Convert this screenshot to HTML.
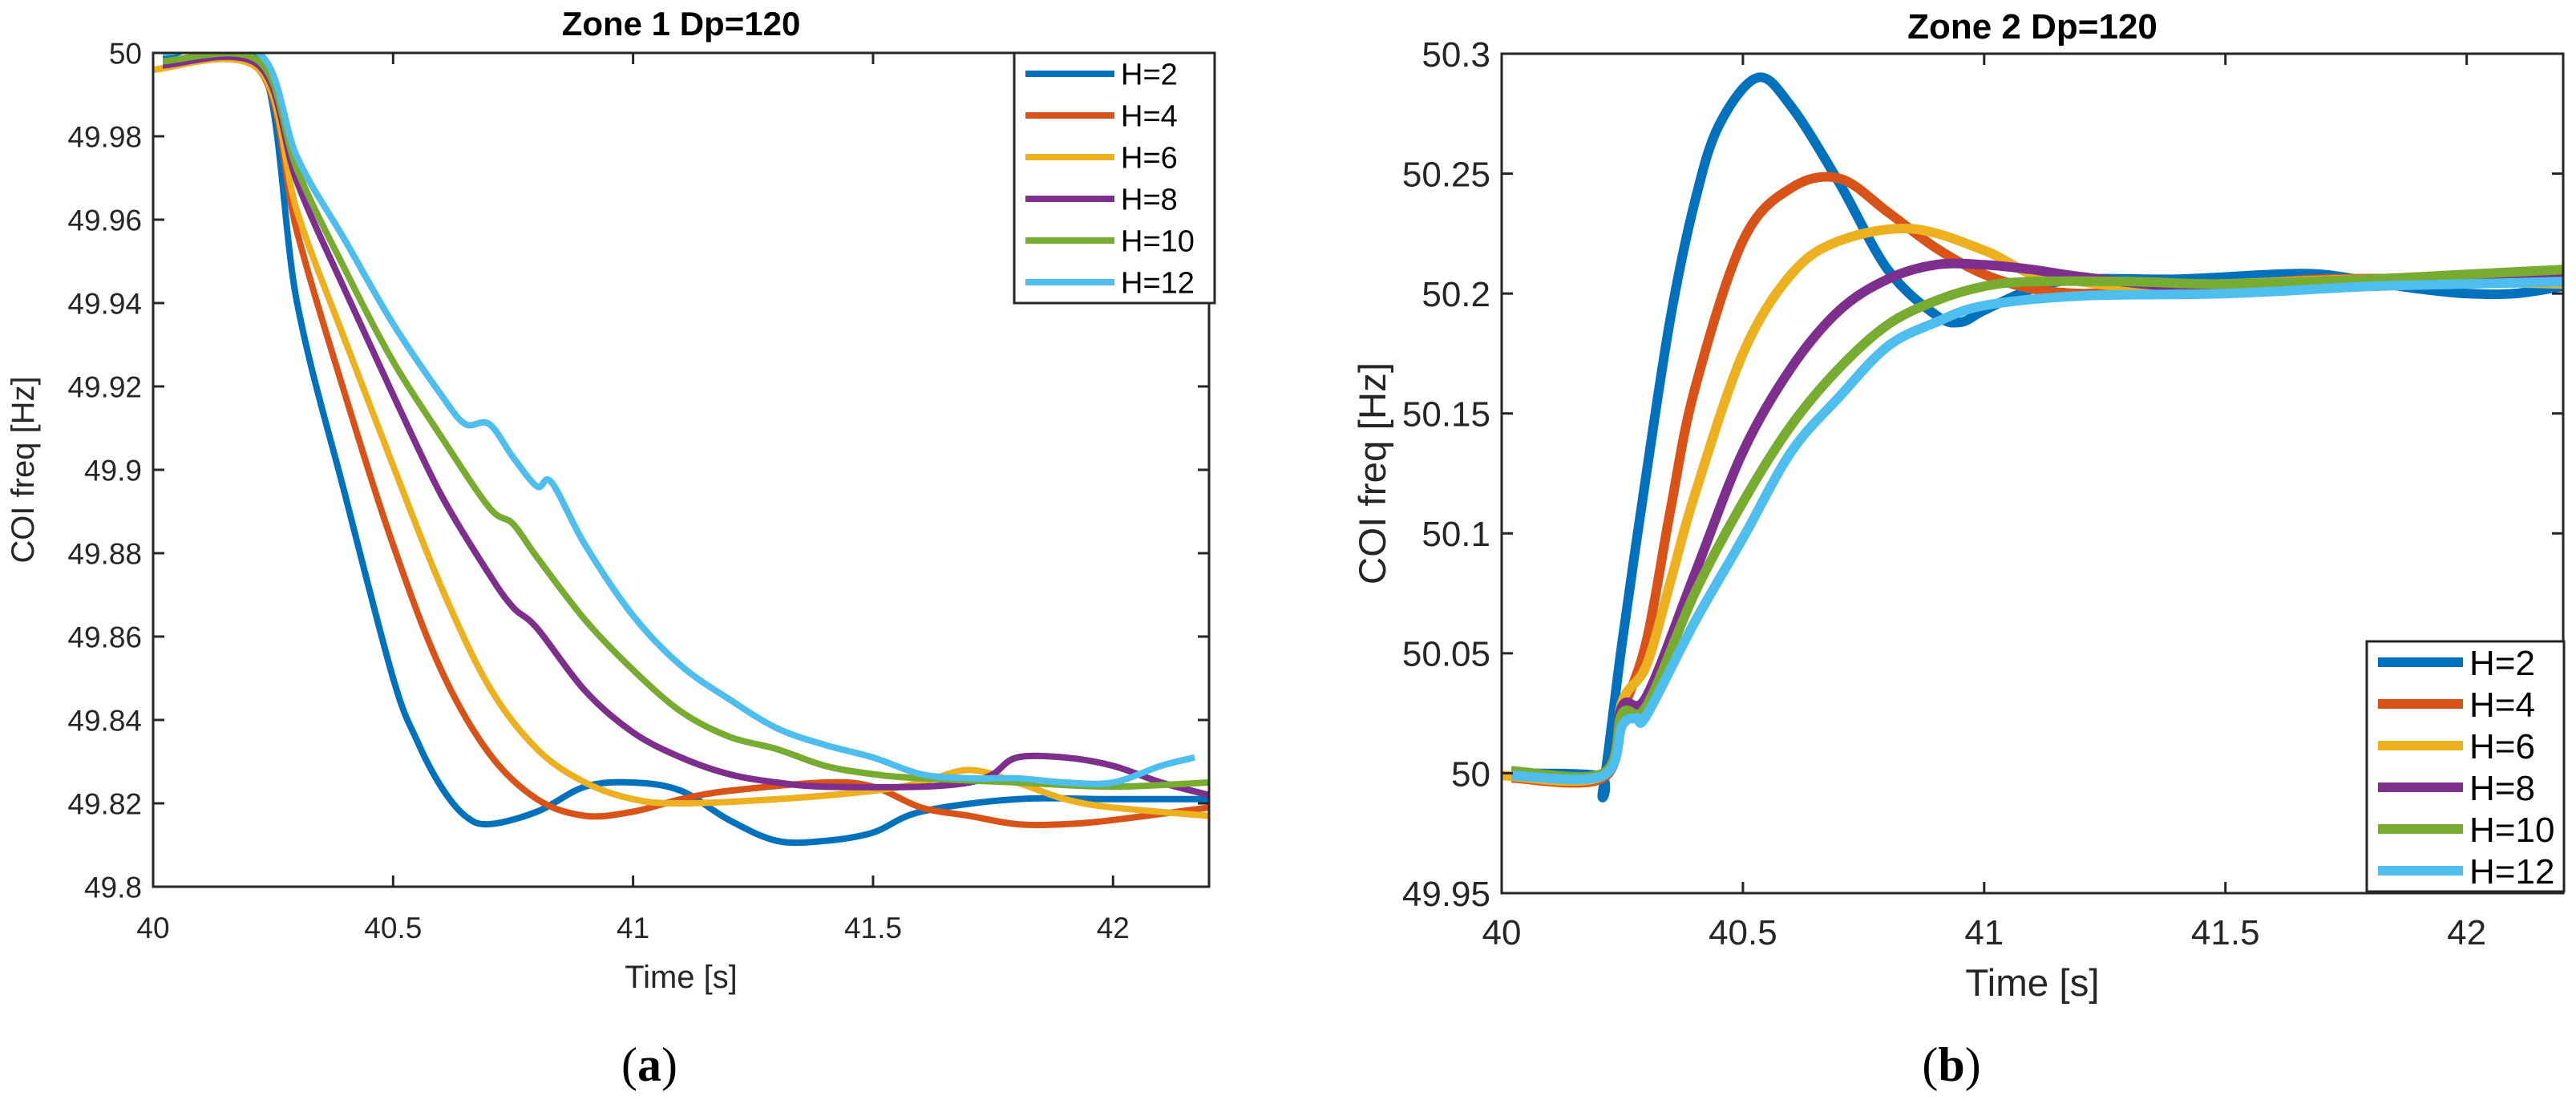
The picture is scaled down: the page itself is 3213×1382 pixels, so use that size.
<!DOCTYPE html>
<html><head><meta charset="utf-8"><style>
html,body{margin:0;padding:0;background:#fff;}
svg{display:block;font-family:"Liberation Sans",sans-serif;}
</style></head><body>
<svg id="fig" width="3213" height="1382" viewBox="0 0 3213 1382" xmlns="http://www.w3.org/2000/svg">
<rect width="3213" height="1382" fill="#fff"/>
<g id="pa"></g>
<g id="pb"></g>
<text x="810" y="1348" font-family="Liberation Serif,serif" font-size="60" text-anchor="middle">(<tspan font-weight="bold">a</tspan>)</text>
<text x="2434" y="1348" font-family="Liberation Serif,serif" font-size="60" text-anchor="middle">(<tspan font-weight="bold">b</tspan>)</text>
</svg>
<script>
const colors=["#0072BD","#D95319","#EDB120","#7E2F8E","#77AC30","#4DBEEE"];
const labels=["H=2","H=4","H=6","H=8","H=10","H=12"];
const xTicks=[40,40.5,41,41.5,42];
const yTicksA=[49.8,49.82,49.84,49.86,49.88,49.9,49.92,49.94,49.96,49.98,50];
const yTicksB=[49.95,50,50.05,50.1,50.15,50.2,50.25,50.3];

const tA2=[40.02,40.22,40.3,40.4,40.5,40.55,40.6,40.65,40.7,40.8,40.9,41.0,41.1,41.2,41.3,41.4,41.5,41.6,41.8,42.0,42.2];
const vA2=[49.999,49.999,49.94,49.894,49.85,49.835,49.824,49.817,49.815,49.818,49.824,49.825,49.823,49.816,49.811,49.811,49.813,49.818,49.821,49.821,49.821];
const tA4=[40.0,40.22,40.3,40.4,40.5,40.6,40.7,40.8,40.9,41.0,41.1,41.2,41.4,41.5,41.6,41.7,41.8,41.9,42.0,42.2];
const vA4=[49.996,49.996,49.957,49.918,49.882,49.852,49.832,49.821,49.817,49.818,49.821,49.823,49.825,49.824,49.819,49.817,49.815,49.815,49.816,49.819];
const tA6=[40.0,40.22,40.3,40.4,40.5,40.6,40.7,40.8,40.9,41.0,41.1,41.3,41.5,41.6,41.7,41.8,41.9,42.0,42.2];
const vA6=[49.996,49.996,49.962,49.931,49.901,49.872,49.848,49.833,49.825,49.821,49.82,49.821,49.823,49.825,49.828,49.825,49.821,49.819,49.817];
const tA8=[40.02,40.22,40.3,40.4,40.5,40.6,40.7,40.75,40.8,40.9,41.0,41.1,41.2,41.3,41.4,41.6,41.7,41.75,41.8,41.9,42.0,42.1,42.2];
const vA8=[49.997,49.997,49.969,49.943,49.918,49.894,49.875,49.867,49.862,49.847,49.837,49.831,49.827,49.825,49.824,49.824,49.825,49.827,49.831,49.831,49.829,49.825,49.822];
const tA10=[40.02,40.22,40.3,40.4,40.5,40.6,40.7,40.75,40.8,40.9,41.0,41.1,41.2,41.3,41.4,41.5,41.6,41.8,42.0,42.2];
const vA10=[49.998,49.998,49.972,49.948,49.926,49.908,49.891,49.887,49.879,49.864,49.852,49.842,49.836,49.833,49.829,49.827,49.826,49.825,49.824,49.825];
const tA12=[40.02,40.22,40.3,40.4,40.5,40.6,40.65,40.7,40.75,40.8,40.83,40.9,41.0,41.1,41.2,41.3,41.4,41.5,41.6,41.7,41.8,41.9,42.0,42.1,42.17];
const vA12=[50.0,50.0,49.975,49.955,49.935,49.918,49.911,49.911,49.903,49.896,49.897,49.882,49.865,49.853,49.845,49.838,49.834,49.831,49.827,49.826,49.826,49.825,49.825,49.829,49.831];

const tB2=[40.02,40.2,40.21,40.25,40.3,40.35,40.4,40.45,40.53,40.6,40.7,40.8,40.9,40.95,41.0,41.1,41.2,41.4,41.6,41.7,41.8,41.9,42.0,42.1,42.2];
const vB2=[50.0,49.999,49.993,50.055,50.125,50.19,50.238,50.27,50.29,50.278,50.246,50.21,50.191,50.188,50.193,50.202,50.206,50.206,50.208,50.208,50.205,50.202,50.2,50.2,50.203];
const tB4=[40.02,40.21,40.25,40.3,40.35,40.4,40.5,40.6,40.7,40.8,40.9,41.0,41.1,41.2,41.3,41.5,41.7,42.0,42.2];
const vB4=[49.998,49.998,50.025,50.055,50.11,50.16,50.222,50.244,50.248,50.234,50.219,50.208,50.202,50.2,50.201,50.203,50.206,50.206,50.205];
const tB6=[40.0,40.21,40.25,40.3,40.35,40.4,40.5,40.6,40.7,40.85,41.0,41.1,41.2,41.3,41.5,41.8,42.0,42.2];
const vB6=[49.999,49.999,50.03,50.045,50.08,50.116,50.175,50.208,50.222,50.227,50.218,50.208,50.205,50.203,50.204,50.206,50.205,50.204];
const tB8=[40.02,40.21,40.25,40.3,40.4,40.5,40.6,40.7,40.8,40.9,41.0,41.1,41.2,41.4,41.6,41.8,42.0,42.2];
const vB8=[50.0,50.0,50.028,50.032,50.083,50.134,50.169,50.193,50.206,50.212,50.212,50.21,50.207,50.203,50.204,50.206,50.207,50.209];
const tB10=[40.02,40.21,40.25,40.3,40.4,40.5,40.6,40.7,40.8,40.9,41.0,41.1,41.3,41.5,41.8,42.0,42.2];
const vB10=[50.001,50.0,50.025,50.028,50.075,50.113,50.145,50.169,50.187,50.197,50.203,50.205,50.205,50.204,50.206,50.208,50.21];
const tB12=[40.02,40.21,40.25,40.28,40.3,40.4,40.5,40.6,40.7,40.8,40.9,41.0,41.2,41.5,41.8,42.0,42.2];
const vB12=[49.999,49.999,50.02,50.023,50.024,50.063,50.098,50.134,50.157,50.178,50.188,50.195,50.199,50.2,50.203,50.204,50.205];

const NS="http://www.w3.org/2000/svg";
function mk(tag,attrs,parent){const e=document.createElementNS(NS,tag);for(const k in attrs)e.setAttribute(k,attrs[k]);parent.appendChild(e);return e;}
function pathOf(xs,ys){let d="M"+xs[0]+","+ys[0];for(let i=0;i<xs.length-1;i++){const x0=xs[Math.max(i-1,0)],y0=ys[Math.max(i-1,0)],x1=xs[i],y1=ys[i],x2=xs[i+1],y2=ys[i+1],x3=xs[Math.min(i+2,xs.length-1)],y3=ys[Math.min(i+2,xs.length-1)];d+=" C"+(x1+(x2-x0)/6)+","+(y1+(y2-y0)/6)+" "+(x2-(x3-x1)/6)+","+(y2-(y3-y1)/6)+" "+x2+","+y2;}return d;}

function drawChart(g,cfg){
  const {L,T,R,B,ymin,ymax,yTicks,fs,tfs,lfs,lw,title,titleY,tickY,xlabY,ylabX,series,leg,condensed}=cfg;
  const sx=v=>L+(v-40)/2.2*(R-L), sy=v=>B-(v-ymin)/(ymax-ymin)*(B-T);
  const fam=condensed?"'Liberation Sans Narrow','Liberation Sans',sans-serif":"'Liberation Sans',sans-serif";
  const clipId="clip"+g.id;
  const defs=mk("defs",{},g);const cp=mk("clipPath",{id:clipId},defs);mk("rect",{x:L,y:T,width:R-L,height:B-T},cp);
  const sg=mk("g",{"clip-path":"url(#"+clipId+")"},g);
  series.forEach((s,i)=>{
    const p=mk("path",{d:pathOf(s[0].map(sx),s[1].map(sy)),fill:"none",stroke:colors[i],"stroke-width":lw,"stroke-linejoin":"round"},sg);
    
    
  });
  const box=mk("rect",{x:L,y:T,width:R-L,height:B-T,fill:"none",stroke:"#262626","stroke-width":3},g);
  
  
  xTicks.forEach(v=>{
    const x=sx(v);
    mk("line",{x1:x,y1:B,x2:x,y2:B-14,stroke:"#262626","stroke-width":3},g);
    mk("line",{x1:x,y1:T,x2:x,y2:T+14,stroke:"#262626","stroke-width":3},g);
    const t=mk("text",{x:x,y:tickY,"font-size":fs,"text-anchor":"middle",fill:"#262626","font-family":fam},g);t.textContent=String(v);
    
    
  });
  yTicks.forEach(v=>{
    const y=sy(v);
    mk("line",{x1:L,y1:y,x2:L+14,y2:y,stroke:"#262626","stroke-width":3},g);
    mk("line",{x1:R,y1:y,x2:R-14,y2:y,stroke:"#262626","stroke-width":3},g);
    const t=mk("text",{x:L-14,y:y+fs*0.36,"font-size":fs,"text-anchor":"end",fill:"#262626","font-family":fam},g);t.textContent=String(v);
    
    
  });
  const tt=mk("text",{x:(L+R)/2,y:titleY,"font-size":tfs,"font-weight":"bold","text-anchor":"middle",fill:"#000","font-family":fam},g);tt.textContent=title;
  
  
  const xl=mk("text",{x:(L+R)/2,y:xlabY,"font-size":fs*1.08,"text-anchor":"middle",fill:"#262626","font-family":fam},g);xl.textContent="Time [s]";
  
  
  const yl=mk("text",{x:ylabX,y:(T+B)/2,"font-size":fs*1.08,"text-anchor":"middle",fill:"#262626","font-family":fam,transform:"rotate(-90 "+ylabX+" "+((T+B)/2)+")"},g);yl.textContent="COI freq [Hz]";
  
  
  const lg=mk("g",{},g);
  
  
  mk("rect",{x:leg.x,y:leg.y,width:leg.w,height:leg.h,fill:"#fff",stroke:"#262626","stroke-width":3},lg);
  const rh=leg.h/6;
  labels.forEach((lab,i)=>{
    const cy=leg.y+rh*(i+0.5);
    mk("line",{x1:leg.x+14,y1:cy,x2:leg.x+leg.lineW,y2:cy,stroke:colors[i],"stroke-width":lw},lg);
    const t=mk("text",{x:leg.x+leg.lineW+8,y:cy+lfs*0.36,"font-size":lfs,fill:"#000","font-family":fam},lg);t.textContent=lab;
    
    
  });
}
drawChart(document.getElementById("pa"),{L:191,T:66,R:1508,B:1106,ymin:49.8,ymax:50,yTicks:yTicksA,fs:37,tfs:42,lfs:38,lw:8,
  title:"Zone 1  Dp=120",titleY:44,tickY:1170,xlabY:1232,ylabX:42,
  series:[[tA2,vA2],[tA4,vA4],[tA6,vA6],[tA8,vA8],[tA10,vA10],[tA12,vA12]],
  leg:{x:1265,y:66,w:250,h:312,lineW:125},condensed:false});
drawChart(document.getElementById("pb"),{L:1873,T:67,R:3197,B:1114,ymin:49.95,ymax:50.3,yTicks:yTicksB,fs:44,tfs:44,lfs:44,lw:12,
  title:"Zone 2 Dp=120",titleY:48,tickY:1178,xlabY:1242,ylabX:1728,
  series:[[tB2,vB2],[tB4,vB4],[tB6,vB6],[tB8,vB8],[tB10,vB10],[tB12,vB12]],
  leg:{x:2952,y:800,w:246,h:312,lineW:120},condensed:true});
</script>
</body></html>
